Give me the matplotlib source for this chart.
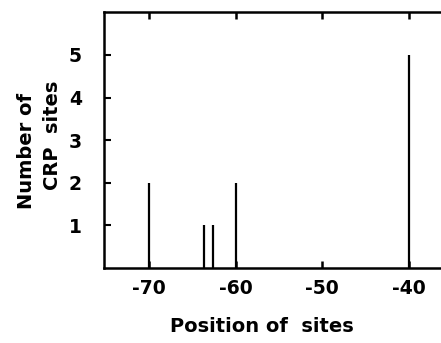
import matplotlib
matplotlib.use("Agg")
import matplotlib.pyplot as plt

# positions of CRP sites and how many at each
positions = [-70, -63.7, -62.6, -60, -40]
counts = [2, 1, 1, 2, 5]
xticks = [-70, -60, -50, -40]
yticks = [1, 2, 3, 4, 5]

plt.rcParams['font.family'] = 'DejaVu Sans'
plt.rcParams['font.weight'] = 'bold'

fig = plt.figure(figsize=(4.41, 3.43), dpi=100)
ax = fig.add_axes([0.236, 0.219, 0.764, 0.745])

ax.vlines(positions, 0, counts, colors='black', linewidth=1.6)

ax.set_xlim(-75.2, -36.3)
ax.set_ylim(0, 6.0)
ax.set_xticks(xticks)
ax.set_xticklabels([str(t) for t in xticks], fontsize=13.5, fontweight='bold')
ax.set_yticks(yticks)
ax.set_yticklabels([str(t) for t in yticks], fontsize=13.5, fontweight='bold')
ax.tick_params(axis='x', direction='in', length=5, width=1.8, pad=8, top=True)
ax.tick_params(axis='y', direction='in', length=5, width=1.5, pad=16)

for side in ['left', 'bottom', 'top']:
    ax.spines[side].set_linewidth(1.8)
ax.spines['right'].set_visible(False)

fig.text(0.594, 0.047, 'Position of  sites', ha='center', va='center',
         fontsize=14, fontweight='bold')
fig.text(0.059, 0.56, 'Number of', rotation=90, ha='center', va='center',
         fontsize=14, fontweight='bold')
fig.text(0.118, 0.606, 'CRP  sites', rotation=90, ha='center', va='center',
         fontsize=14, fontweight='bold')

fig.savefig('out.png', dpi=100)
